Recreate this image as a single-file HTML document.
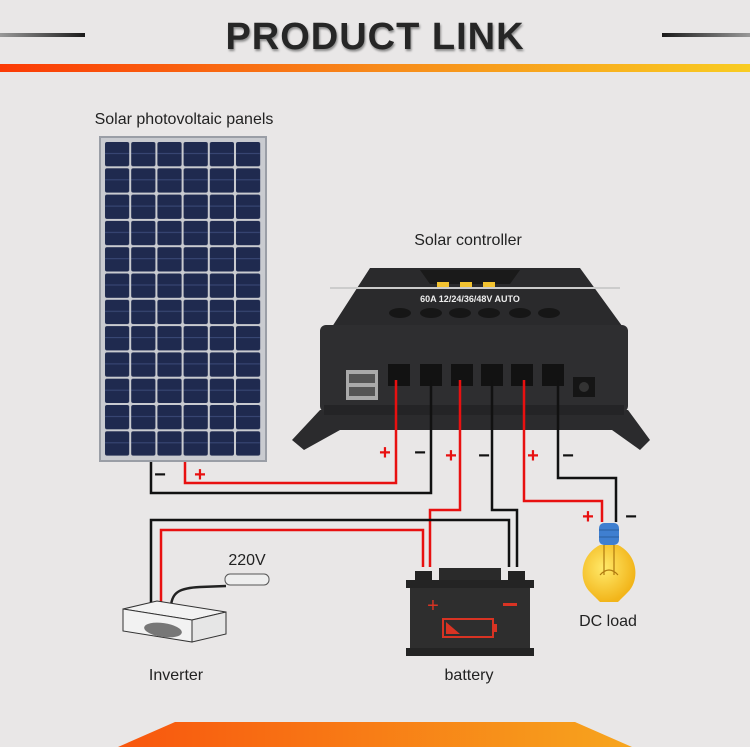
<!DOCTYPE html>
<html><head><meta charset="utf-8"><style>
html,body{margin:0;padding:0;width:750px;height:747px;overflow:hidden;background:#e9e7e7;}
svg{display:block}
text{font-family:"Liberation Sans",sans-serif;}
</style></head><body>
<svg width="750" height="747" viewBox="0 0 750 747">
<defs>
<linearGradient id="bar" x1="0" x2="1"><stop offset="0" stop-color="#fb3a05"/><stop offset="0.5" stop-color="#f7891a"/><stop offset="1" stop-color="#f8cc22"/></linearGradient>
<linearGradient id="ll" x1="0" x2="1"><stop offset="0" stop-color="#999"/><stop offset="1" stop-color="#1a1a1a"/></linearGradient>
<linearGradient id="rl" x1="0" x2="1"><stop offset="0" stop-color="#1a1a1a"/><stop offset="1" stop-color="#999"/></linearGradient>
<linearGradient id="bot" x1="0" x2="1"><stop offset="0" stop-color="#f8560e"/><stop offset="1" stop-color="#f7a51e"/></linearGradient>
<radialGradient id="bulb" cx="0.4" cy="0.4" r="0.6"><stop offset="0" stop-color="#ffe96a"/><stop offset="1" stop-color="#f2b51a"/></radialGradient>
<pattern id="cells" x="104" y="141" width="26.2" height="26.3" patternUnits="userSpaceOnUse"><rect x="1" y="1" width="24.2" height="24.3" rx="2" fill="#1f2a4f"/><rect x="1" y="12" width="24" height="1" fill="#3b4a78"/></pattern>
</defs>
<rect width="750" height="747" fill="#e9e7e7"/>
<!-- header -->
<rect x="0" y="33" width="85" height="4" fill="url(#ll)"/>
<rect x="662" y="33" width="88" height="4" fill="url(#rl)"/>
<text x="375" y="49" text-anchor="middle" font-size="38" font-weight="bold" fill="#262626" letter-spacing="1" style="text-shadow:1px 2px 2px #888">PRODUCT LINK</text>
<rect x="0" y="64" width="750" height="8" fill="url(#bar)"/>
<!-- labels -->
<text x="184" y="124" text-anchor="middle" font-size="16" fill="#222">Solar photovoltaic panels</text>
<text x="468" y="245" text-anchor="middle" font-size="16" fill="#222">Solar controller</text>
<text x="247" y="565" text-anchor="middle" font-size="16" fill="#222">220V</text>
<text x="608" y="626" text-anchor="middle" font-size="16" fill="#222">DC load</text>
<text x="176" y="680" text-anchor="middle" font-size="16" fill="#222">Inverter</text>
<text x="469" y="680" text-anchor="middle" font-size="16" fill="#222">battery</text>
<!-- solar panel -->
<rect x="100" y="137" width="166" height="324" fill="#c9cbd0" stroke="#9a9ea6" stroke-width="2"/>
<rect x="104" y="141" width="158" height="316" fill="url(#cells)"/>
<!-- controller -->
<polygon d="" points="292,440 320,410 628,410 650,440 640,450 612,430 340,430 304,450" fill="#2b2b2d"/>
<polygon points="370,268 580,268 625,330 330,330" fill="#2a2a2c"/>
<rect x="330" y="287" width="290" height="2" fill="#ccc"/>
<text x="470" y="302" text-anchor="middle" font-size="9" font-weight="bold" fill="#eee">60A 12/24/36/48V AUTO</text>
<polygon points="420,270 520,270 510,284 430,284" fill="#1a1a1a"/>
<rect x="437" y="282" width="12" height="5" fill="#f2c230"/><rect x="460" y="282" width="12" height="5" fill="#f2c230"/><rect x="483" y="282" width="12" height="5" fill="#f2c230"/>
<g fill="#161616"><ellipse cx="400" cy="313" rx="11" ry="5"/><ellipse cx="431" cy="313" rx="11" ry="5"/><ellipse cx="460" cy="313" rx="11" ry="5"/><ellipse cx="489" cy="313" rx="11" ry="5"/><ellipse cx="520" cy="313" rx="11" ry="5"/><ellipse cx="549" cy="313" rx="11" ry="5"/></g>
<rect x="320" y="325" width="308" height="87" rx="6" fill="#2e2e30"/>
<rect x="324" y="405" width="300" height="10" fill="#242426"/>
<g fill="#121212"><rect x="388" y="364" width="22" height="22"/><rect x="420" y="364" width="22" height="22"/><rect x="451" y="364" width="22" height="22"/><rect x="481" y="364" width="22" height="22"/><rect x="511" y="364" width="22" height="22"/><rect x="542" y="364" width="22" height="22"/></g>
<rect x="346" y="370" width="32" height="30" fill="#aaa"/><rect x="349" y="374" width="26" height="9" fill="#555"/><rect x="349" y="387" width="26" height="9" fill="#555"/>
<rect x="573" y="377" width="22" height="20" fill="#151515"/><circle cx="584" cy="387" r="5" fill="#333"/>
<!-- wires -->
<g fill="none" stroke-width="2.5">
<polyline points="151,462 151,493 431,493 431,380" stroke="#111"/>
<polyline points="185,462 185,483 396,483 396,380" stroke="#e81010"/>
<polyline points="460,380 460,510 430,510 430,567" stroke="#e81010"/>
<polyline points="492,380 492,510 517,510 517,567" stroke="#111"/>
<polyline points="524,380 524,501 602,501 602,522" stroke="#e81010"/>
<polyline points="558,380 558,478 616,478 616,522" stroke="#111"/>
<polyline points="151,603 151,520 509,520 509,567" stroke="#111"/>
<polyline points="161,603 161,530 423,530 423,567" stroke="#e81010"/>
</g>
<!-- signs -->
<g font-size="20" font-weight="bold" text-anchor="middle">
<text x="385" y="459" fill="#e81010">+</text><text x="420" y="459" fill="#111">−</text>
<text x="451" y="462" fill="#e81010">+</text><text x="484" y="462" fill="#111">−</text>
<text x="533" y="462" fill="#e81010">+</text><text x="568" y="462" fill="#111">−</text>
<text x="160" y="481" fill="#111">−</text><text x="200" y="481" fill="#e81010">+</text>
<text x="588" y="523" fill="#e81010">+</text><text x="631" y="523" fill="#111">−</text>
</g>
<!-- battery -->
<rect x="439" y="568" width="62" height="13" fill="#2a2a2a"/>
<rect x="415" y="571" width="17" height="9" fill="#222"/><rect x="508" y="571" width="17" height="9" fill="#222"/>
<rect x="406" y="580" width="128" height="8" fill="#242424"/>
<rect x="410" y="588" width="120" height="62" fill="#2e2e2e"/>
<rect x="406" y="648" width="128" height="8" fill="#242424"/>
<text x="433" y="612" text-anchor="middle" font-size="20" fill="#d83323">+</text>
<rect x="503" y="603" width="14" height="3" fill="#d83323"/>
<rect x="443" y="619" width="50" height="18" fill="none" stroke="#d83323" stroke-width="2"/><rect x="493" y="624" width="4" height="8" fill="#d83323"/>
<polygon points="446,622 446,634 460,634" fill="#d83323"/>
<!-- bulb -->
<rect x="599" y="523" width="20" height="22" rx="5" fill="#3f7fd0"/>
<g stroke="#2a5fa0" stroke-width="1"><line x1="599" y1="530" x2="619" y2="530"/><line x1="599" y1="537" x2="619" y2="537"/></g>
<path d="M600,545 C580,555 578,580 590,592 C596,598 598,600 600,602 L618,602 C620,600 622,598 628,592 C640,580 638,555 618,545 Z" fill="url(#bulb)"/>
<path d="M604,545 L604,575 M614,545 L614,575 M600,575 Q609,565 618,575" stroke="#b07a10" stroke-width="1.2" fill="none"/>
<!-- inverter -->
<path d="M171,606 C172,592 180,588 200,587 L226,586" stroke="#222" stroke-width="2.5" fill="none"/>
<rect x="225" y="574" width="44" height="11" rx="5" fill="#eee" stroke="#555"/>
<polygon points="123,609 157,601 226,612 192,620" fill="#f2f2f2" stroke="#333"/>
<polygon points="123,609 192,620 192,642 123,631" fill="#f2f2f2" stroke="#333"/>
<polygon points="192,620 226,612 226,634 192,642" fill="#e6e6e6" stroke="#333"/>
<ellipse cx="163" cy="630" rx="19" ry="7" fill="#777" transform="rotate(8 163 630)"/>
<!-- bottom -->
<polygon points="175,722 575,722 632,747 118,747" fill="url(#bot)"/>
</svg>
</body></html>
